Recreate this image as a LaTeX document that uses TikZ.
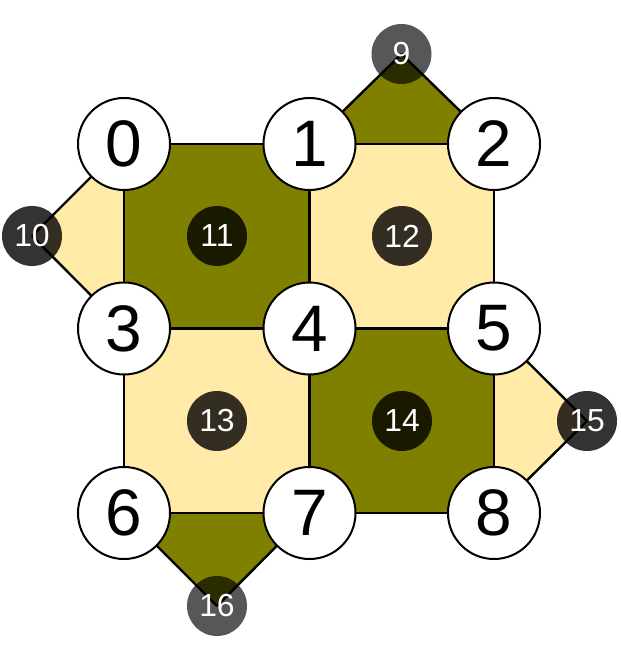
\documentclass[tikz,border=0pt]{standalone}
\usepackage{fontspec}
\setmainfont{Liberation Sans}
\usetikzlibrary{backgrounds}
\definecolor{olivefill}{HTML}{808000}
\definecolor{creamfill}{HTML}{FFEAA8}
\tikzset{
  bignode/.style={circle, draw=black, fill=white, line width=2bp, minimum size=92bp, inner sep=0pt, font=\fontsize{66}{66}\selectfont},
  facenode/.style={circle, fill=black, fill opacity=0.8, text opacity=1, text=white, minimum size=60bp, inner sep=0pt, font=\fontsize{32}{32}\selectfont},
  lightface/.style={facenode, fill opacity=0.66},
  edge/.style={draw=black, line width=2.4bp},
  darkface/.style={fill=olivefill},
  paleface/.style={fill=creamfill}
}
\begin{document}
\begin{tikzpicture}[x=1bp, y=-1bp]
\useasboundingbox (0,0) rectangle (621,648);
% big vertices
\node[bignode] (n0) at (124,144) {0};
\node[bignode] (n1) at (309.5,144) {1};
\node[bignode] (n2) at (494,144) {2};
\node[bignode] (n3) at (124,328.5) {3};
\node[bignode] (n4) at (309.5,328.5) {4};
\node[bignode] (n5) at (494,328.5) {5};
\node[bignode] (n6) at (124,513) {6};
\node[bignode] (n7) at (309.5,513) {7};
\node[bignode] (n8) at (494,513) {8};
% face nodes
\node[lightface] (n9) at (401.5,54) {9};
\node[facenode] (n10) at (32,236) {10};
\node[facenode] (n11) at (217,236) {11};
\node[facenode] (n12) at (402,236) {12};
\node[facenode] (n13) at (217,421) {13};
\node[facenode] (n14) at (402,421) {14};
\node[facenode] (n15) at (587,421) {15};
\node[lightface] (n16) at (217,606) {16};
\begin{pgfonlayer}{background}
% faces
\path[darkface] (n0.center) -- (n1.center) -- (n4.center) -- (n3.center) -- cycle;
\path[paleface] (n1.center) -- (n2.center) -- (n5.center) -- (n4.center) -- cycle;
\path[paleface] (n3.center) -- (n4.center) -- (n7.center) -- (n6.center) -- cycle;
\path[darkface] (n4.center) -- (n5.center) -- (n8.center) -- (n7.center) -- cycle;
\path[darkface] (n1.center) -- (n9.center) -- (n2.center) -- cycle;
\path[paleface] (n0.center) -- (n10.center) -- (n3.center) -- cycle;
\path[paleface] (n5.center) -- (n15.center) -- (n8.center) -- cycle;
\path[darkface] (n6.center) -- (n16.center) -- (n7.center) -- cycle;
% edges
\draw[edge] (n0.center) -- (n1.center);
\draw[edge] (n1.center) -- (n2.center);
\draw[edge] (n3.center) -- (n4.center);
\draw[edge] (n4.center) -- (n5.center);
\draw[edge] (n6.center) -- (n7.center);
\draw[edge] (n7.center) -- (n8.center);
\draw[edge] (n0.center) -- (n3.center);
\draw[edge] (n3.center) -- (n6.center);
\draw[edge] (n1.center) -- (n4.center);
\draw[edge] (n4.center) -- (n7.center);
\draw[edge] (n2.center) -- (n5.center);
\draw[edge] (n5.center) -- (n8.center);
\draw[edge] (n1.center) -- (n9.center);
\draw[edge] (n9.center) -- (n2.center);
\draw[edge] (n0.center) -- (n10.center);
\draw[edge] (n10.center) -- (n3.center);
\draw[edge] (n5.center) -- (n15.center);
\draw[edge] (n15.center) -- (n8.center);
\draw[edge] (n6.center) -- (n16.center);
\draw[edge] (n16.center) -- (n7.center);
\end{pgfonlayer}
\end{tikzpicture}
\end{document}
